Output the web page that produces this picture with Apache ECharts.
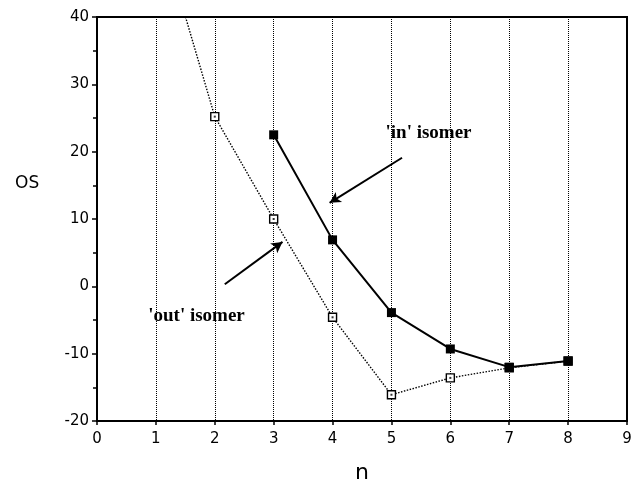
<!DOCTYPE html>
<html>
<head>
<meta charset="utf-8">
<script src="https://cdn.jsdelivr.net/npm/echarts@6/dist/echarts.min.js"></script>
<style>
  html, body { margin: 0; padding: 0; background: #fff; }
  #os_chart { width: 631px; height: 479px; }
</style>
</head>
<body>
<div id="os_chart"></div>
<script>
// 数据
var nOut = [1, 2, 3, 4, 5, 6, 7, 8];
var osOut = [55, 25.2, 10, -4.6, -16.1, -13.6, -12.1, -11.1];   // 'out' isomer
var nIn = [3, 4, 5, 6, 7, 8];
var osIn = [22.5, 6.9, -3.9, -9.3, -12, -11.1];                 // 'in' isomer
var xTicks = [0, 1, 2, 3, 4, 5, 6, 7, 8, 9];
var yTicks = [-20, -10, 0, 10, 20, 30, 40];

function pairs(xs, ys) {
  var arr = [];
  for (var i = 0; i < xs.length; i++) arr.push([xs[i], ys[i]]);
  return arr;
}

var myChart = echarts.init(document.getElementById('os_chart'));
var tickFont = { fontFamily: 'DejaVu Sans', fontSize: 15, color: '#000' };
var noteFont = { fontFamily: 'Liberation Serif', fontWeight: 'bold', fontSize: 19, color: '#000' };

var option = {
  animation: false,
  grid: {
    left: 97, right: 4, top: 17, bottom: 58,
    outerBoundsMode: 'none',
    containLabel: false,
    show: true, borderColor: '#000', borderWidth: 2
  },
  // y 轴标题 OS（原图不在轴中间）
  graphic: [{
    type: 'text',
    left: 15, top: 175,
    style: { text: 'OS', font: '17px "DejaVu Sans"', fill: '#000' }
  }],
  xAxis: {
    type: 'value',
    min: xTicks[0], max: xTicks[xTicks.length - 1], interval: 1,
    name: 'n',
    nameLocation: 'middle',
    nameGap: 41,
    nameTextStyle: { fontFamily: 'DejaVu Sans', fontSize: 22, color: '#000' },
    axisLine: { onZero: false, lineStyle: { color: '#000', width: 2 } },
    axisTick: { show: true, length: 4, lineStyle: { color: '#000', width: 1.5 } },
    axisLabel: Object.assign({ margin: 11 }, tickFont),
    splitLine: { show: true, lineStyle: { color: '#000', type: [1, 1], width: 1 } }
  },
  yAxis: {
    type: 'value',
    min: yTicks[0], max: yTicks[yTicks.length - 1], interval: 10,
    axisLine: { onZero: false, lineStyle: { color: '#000', width: 2 } },
    axisTick: { show: true, length: 5, lineStyle: { color: '#000', width: 1.5 } },
    minorTick: { show: true, splitNumber: 2, length: 4, lineStyle: { color: '#000', width: 1.5 } },
    axisLabel: Object.assign({ margin: 8 }, tickFont),
    splitLine: { show: false }
  },
  series: [
    {
      name: "'out' isomer",
      type: 'line',
      data: pairs(nOut, osOut),
      clip: true,
      symbol: 'rect',
      symbolSize: 8,
      itemStyle: { color: '#fff', borderColor: '#000', borderWidth: 1.4 },
      lineStyle: { color: '#000', width: 1.4, type: [1.5, 1.5] },
      z: 3,
      markLine: {
        silent: true,
        symbol: ['none', 'arrow'],
        symbolSize: [9, 11],
        lineStyle: { color: '#000', width: 2, type: 'solid' },
        label: { show: false },
        data: [[{ coord: [2.17, 0.3] }, { coord: [3.15, 6.6] }]]
      },
      markPoint: {
        symbol: 'circle', symbolSize: 0,
        label: Object.assign({ show: true, formatter: "'out' isomer" }, noteFont),
        data: [{ coord: [1.69, -4.4] }]
      }
    },
    {
      // 空心方块中心的小点
      name: 'outDot',
      type: 'scatter',
      data: pairs(nOut, osOut),
      symbol: 'rect',
      symbolSize: 2,
      itemStyle: { color: '#000' },
      z: 5,
      silent: true
    },
    {
      name: "'in' isomer",
      type: 'line',
      data: pairs(nIn, osIn),
      symbol: 'rect',
      symbolSize: 9,
      itemStyle: { color: '#000' },
      lineStyle: { color: '#000', width: 2 },
      z: 4,
      markLine: {
        silent: true,
        symbol: ['none', 'arrow'],
        symbolSize: [9, 11],
        lineStyle: { color: '#000', width: 2, type: 'solid' },
        label: { show: false },
        data: [[{ coord: [5.18, 19.1] }, { coord: [3.95, 12.4] }]]
      },
      markPoint: {
        symbol: 'circle', symbolSize: 0,
        label: Object.assign({ show: true, formatter: "'in' isomer" }, noteFont),
        data: [{ coord: [5.63, 22.7] }]
      }
    }
  ]
};

myChart.setOption(option);
</script>
</body>
</html>
